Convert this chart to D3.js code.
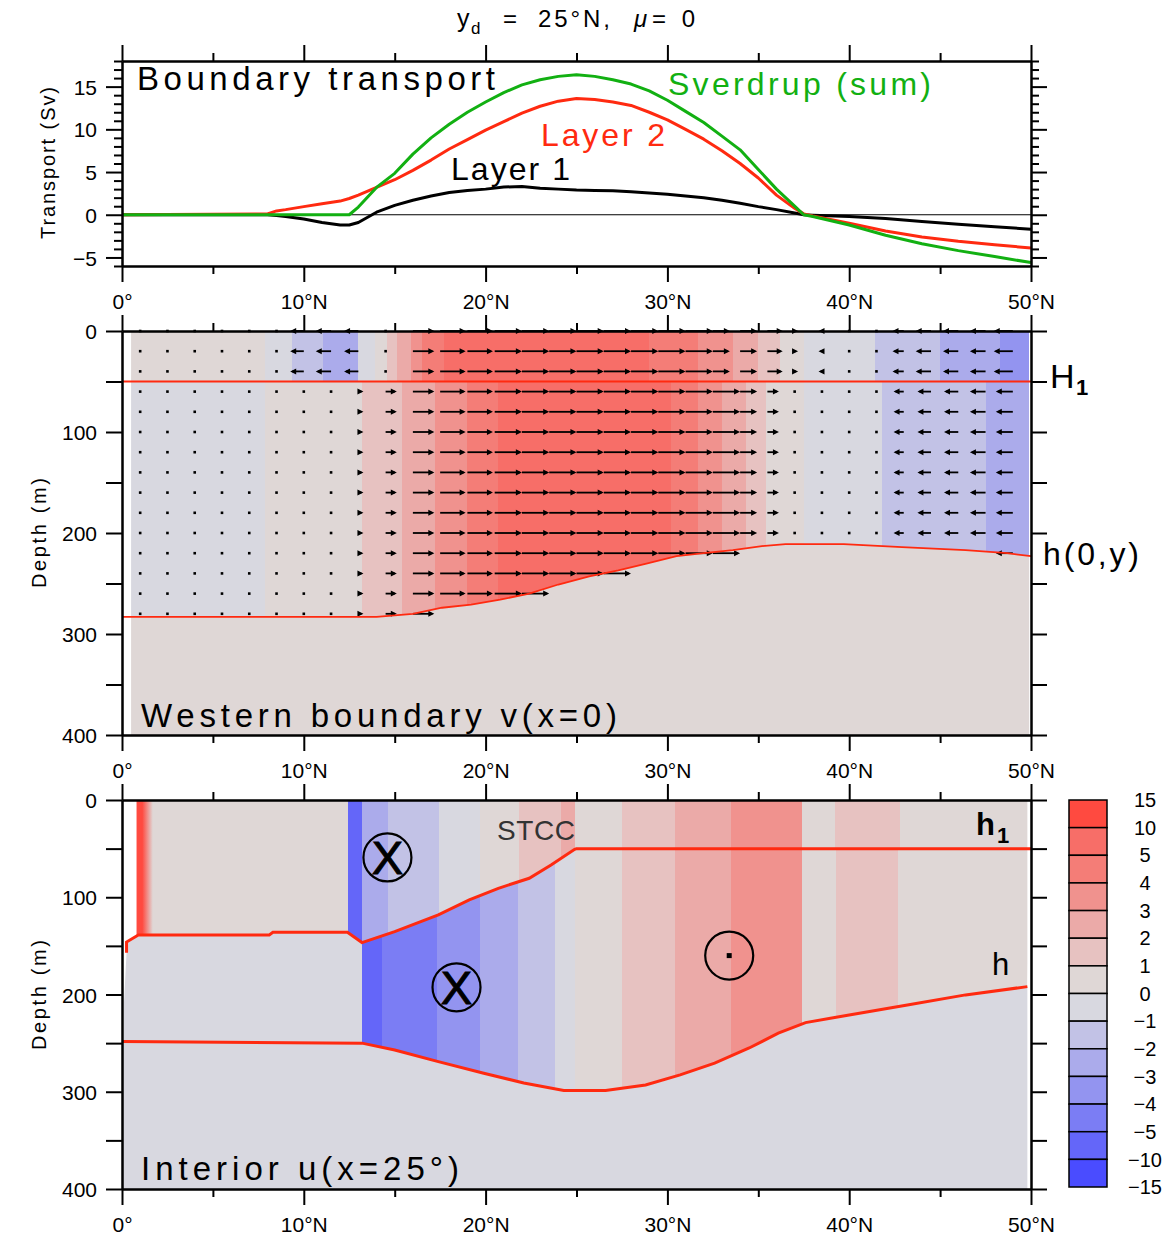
<!DOCTYPE html>
<html><head><meta charset="utf-8">
<script src="https://cdn.jsdelivr.net/npm/d3@7/dist/d3.min.js"></script>
<style>
html,body{margin:0;padding:0;background:#fff;}
svg{display:block;}
</style></head>
<body>
<svg id="chart" width="1176" height="1237"></svg>
<script>
// ---------- Top panel: boundary transport (Sv) ----------
const transLat = [0, 8, 8.5, 9, 10, 11, 12, 12.5, 13, 14, 15, 16, 17, 18, 19, 20, 21, 22, 23, 24, 25, 26, 27, 28, 29, 30, 31, 32, 33, 34, 35, 36, 37, 37.5, 38, 40, 42, 44, 46, 48, 50];
const layer1 = [0, 0, -0.1, -0.2, -0.5, -0.9, -1.2, -1.2, -0.9, 0.3, 1.1, 1.7, 2.2, 2.6, 2.85, 3.0, 3.25, 3.3, 3.1, 3.0, 2.9, 2.85, 2.8, 2.7, 2.55, 2.4, 2.2, 2.0, 1.7, 1.35, 0.95, 0.6, 0.2, 0, -0.05, -0.2, -0.45, -0.8, -1.1, -1.4, -1.7];
const layer2 = [0, 0.1, 0.45, 0.6, 0.95, 1.3, 1.6, 1.9, 2.3, 3.2, 4.1, 5.2, 6.4, 7.7, 8.8, 9.9, 10.9, 11.9, 12.7, 13.3, 13.6, 13.5, 13.2, 12.8, 12.0, 11.1, 10.0, 8.85, 7.5, 6.0, 4.3, 2.3, 0.75, 0.1, -0.15, -1.0, -1.9, -2.6, -3.1, -3.5, -3.9];
const sverdrup = [0, 0, 0, 0, 0, 0, 0, 0, 0.9, 3.2, 4.85, 7.1, 9.0, 10.6, 12.0, 13.2, 14.3, 15.2, 15.8, 16.2, 16.4, 16.2, 15.8, 15.3, 14.5, 13.4, 12.1, 10.8, 9.2, 7.6, 5.3, 3.0, 1.0, 0, -0.2, -1.2, -2.4, -3.4, -4.2, -4.9, -5.6];

// ---------- Colour classes ----------
const classBreaks = [-10, -5, -4, -3, -2, -1, 0, 1, 2, 3, 4, 5, 10];
const classColors = ["#4A4CFF", "#6466F9", "#7B7DF4", "#9394F0", "#ABABEB", "#C2C2E6", "#D8D8E0", "#DFD7D6", "#E7C2C1", "#EBAAA8", "#F0928E", "#F47D77", "#F76E68", "#FF4A40"];
const colorbarLabels = ["15", "10", "5", "4", "3", "2", "1", "0", "−1", "−2", "−3", "−4", "−5", "−10", "−15"];
const colorbarValues = [12.5, 7.5, 4.5, 3.5, 2.5, 1.5, 0.5, -0.5, -1.5, -2.5, -3.5, -4.5, -7.5, -12.5];

// ---------- Middle panel: western boundary v(x=0) ----------
const H1 = 50;
const midHLat = [0, 14, 16, 17.6, 19.2, 20.8, 22.4, 24, 25.7, 27.3, 28.9, 30.5, 32, 33.6, 35.2, 36.5, 39.7, 42.9, 46.4, 48.7, 50];
const midHDepth = [283, 283, 280, 274, 271, 266, 260, 251, 243, 237, 230, 223, 220, 217, 213, 211, 211, 214, 217, 220, 223];
const midUpEdges = [0.5, 7.85, 9.35, 11.05, 12.98, 13.9, 14.6, 15.1, 15.9, 16.5, 17.7, 29.0, 31.7, 33.6, 35.0, 36.2, 37.5, 41.4, 45.0, 48.3, 49.9];
const midUpVals = [0.5, -0.5, -1.5, -2.5, -0.5, 0.5, 1.5, 2.5, 3.5, 4.5, 7, 4.5, 3.5, 2.5, 1.5, 0.5, -0.5, -1.5, -2.5, -3.5];
const midLowEdges = [0.5, 7.85, 13.2, 15.4, 17.2, 19.0, 20.7, 30.2, 31.7, 33.0, 34.3, 35.4, 37.5, 41.8, 47.5, 49.9];
const midLowVals = [-0.5, 0.5, 1.5, 2.5, 3.5, 4.5, 7, 4.5, 3.5, 2.5, 1.5, 0.5, -0.5, -1.5, -2.5];
const midBelowVal = 0.5;
const arrowLat = [1, 2.5, 4, 5.5, 7, 8.5, 10, 11.5, 13, 14.5, 16, 17.5, 19, 20.5, 22, 23.5, 25, 26.5, 28, 29.5, 31, 32.5, 34, 35.5, 37, 38.5, 40, 41.5, 43, 44.5, 46, 47.5, 49];
const arrowDepth = [0, 20, 40, 60, 80, 100, 120, 140, 160, 180, 200, 220, 240, 260, 280];
const arrowUpper = [0.2, 0.2, 0.2, 0.2, 0.2, -0.6, -4, -4.5, -4.2, 0.8, 6.3, 7.5, 7.5, 8, 8, 8, 8, 8, 8, 8, 8, 5, 5, 4.5, 1, -1, -0.3, -0.3, -3.3, -4.5, -4.5, -4.6, -5.6];
const arrowLower = [0.2, 0.2, 0.2, 0.2, 0.2, 0.3, 0.5, 0.8, 1.5, 3.3, 6.3, 7.5, 7.5, 8, 8, 8, 8, 8, 8, 8, 8, 8, 5, 3.4, 0.6, -0.5, -0.3, -0.4, -3, -4, -4.2, -4.6, -5];

// ---------- Bottom panel: interior u(x=25°) ----------
const botH1Lat = [0.25, 0.25, 0.9, 8.1, 8.3, 12.4, 13.2, 15.0, 17.4, 19.1, 20.7, 22.4, 23.6, 24.9, 25.0, 50];
const botH1Depth = [157, 146, 138.7, 138.7, 136, 136, 146.6, 135.3, 118.2, 102.8, 90.8, 80.5, 66.8, 50.7, 50, 50];
const botHLat = [0, 13.2, 15.0, 17.4, 19.9, 22.1, 24.3, 26.6, 28.8, 30.7, 32.6, 34.5, 36.1, 37.6, 40.0, 43.2, 46.4, 49.8];
const botHDepth = [248.4, 250, 257, 269, 281, 291, 298.7, 298.7, 293, 282.6, 270.6, 255, 239.8, 228.9, 221, 210.7, 200.4, 191.9];
const botL1Edges = [1.6, 12.45, 13.2, 14.65, 17.45, 19.7, 21.85, 24.15, 24.9, 27.5, 30.4, 33.5, 37.4, 39.2, 42.8, 49.8];
const botL1Vals = [0.5, -7, -2.5, -1.5, -0.5, 0.5, 1.5, 2.5, 0.5, 1.5, 2.5, 3.5, 0.5, 1.5, 0.5];
const botL2Edges = [0.1, 13.2, 14.3, 17.3, 19.7, 21.8, 23.8, 24.9, 27.5, 30.4, 33.5, 37.4, 39.3, 42.7, 49.8];
const botL2Vals = [-0.5, -7, -4.5, -3.5, -2.5, -1.5, -0.5, 0.5, 1.5, 2.5, 3.5, 0.5, 1.5, 0.5];
const botEdgeStripe = [0.8, 1.7];
const botEdgeVal = 12;
const botBelowVal = -0.5;
const symLat = [14.6, 18.4, 33.4];
const symDepth = [59, 192.6, 160];
const symType = ["into", "into", "out"];

// ================= drawing =================
const FONT = "'Liberation Sans', Arial, sans-serif";
const RED = "#FF2A10";
const svg = d3.select("#chart");
const defs = svg.append("defs");
const x = d3.scaleLinear([0, 50], [122, 1031]);
const yT = d3.scaleLinear([-6, 18], [266, 61]);
const yM = d3.scaleLinear([0, 400], [331, 735]);
const yB = d3.scaleLinear([0, 400], [800, 1189]);
const color = d3.scaleThreshold(classBreaks, classColors);
const zip = (a, b) => a.map((v, i) => [v, b[i]]);
const lineLD = (ys) => d3.line().x(d => x(d[0])).y(d => ys(d[1]));

function stripes(g, edges, vals, ys, d0, d1) {
  g.selectAll(null).data(vals).join("rect")
    .attr("x", (v, i) => x(edges[i]))
    .attr("width", (v, i) => x(edges[i + 1]) - x(edges[i]) + 0.3)
    .attr("y", ys(d0)).attr("height", ys(d1) - ys(d0))
    .attr("fill", v => color(v)).attr("shape-rendering", "crispEdges");
}

function addText(str, px, py, size, opts = {}) {
  const t = svg.append("text").attr("x", px).attr("y", py)
    .attr("font-family", FONT).attr("font-size", size)
    .attr("fill", opts.fill || "#000").text(str);
  if (opts.len) t.attr("textLength", opts.len).attr("lengthAdjust", "spacing");
  if (opts.anchor) t.attr("text-anchor", opts.anchor);
  if (opts.weight) t.attr("font-weight", opts.weight);
  if (opts.style) t.attr("font-style", opts.style);
  return t;
}

// ---- Top panel ----
const gT = svg.append("g");
gT.append("line").attr("x1", x(0)).attr("x2", x(50)).attr("y1", yT(0)).attr("y2", yT(0))
  .attr("stroke", "#000").attr("stroke-width", 1.2);
const lineT = d3.line().x((d, i) => x(transLat[i])).y(d => yT(d));
[[layer1, "#000"], [layer2, RED], [sverdrup, "#12B012"]].forEach(([s, c]) => {
  gT.append("path").attr("d", lineT(s)).attr("fill", "none").attr("stroke", c)
    .attr("stroke-width", 3).attr("stroke-linejoin", "round");
});

// ---- Middle panel ----
defs.append("clipPath").attr("id", "midClip").append("rect")
  .attr("x", x(0.5)).attr("y", yM(0)).attr("width", x(49.9) - x(0.5)).attr("height", yM(400) - yM(0));
const midHPts = zip(midHLat, midHDepth);
defs.append("clipPath").attr("id", "aboveH").append("path")
  .attr("d", d3.area().x(d => x(d[0])).y0(yM(0)).y1(d => yM(d[1]))(midHPts));
const gM = svg.append("g").attr("clip-path", "url(#midClip)");
stripes(gM, midUpEdges, midUpVals, yM, 0, H1);
stripes(gM.append("g").attr("clip-path", "url(#aboveH)"), midLowEdges, midLowVals, yM, H1, 400);
gM.append("path").attr("fill", color(midBelowVal))
  .attr("d", d3.area().x(d => x(d[0])).y0(d => yM(d[1])).y1(yM(400))(midHPts));
// arrows
const hMid = d3.scaleLinear(midHLat, midHDepth);
const gA = svg.append("g");
const k = 3.4;
arrowDepth.forEach(dep => arrowLat.forEach((lat, i) => {
  if (dep > hMid(lat) + 1) return;
  const v = dep < H1 ? arrowUpper[i] : arrowLower[i];
  const x0 = x(lat), y0 = yM(dep), L = v * k;
  if (Math.abs(L) < 3) {
    gA.append("rect").attr("x", x0 - 1.3).attr("y", y0 - 1.3).attr("width", 2.6).attr("height", 2.6).attr("fill", "#000");
  } else {
    const s = Math.sign(L), tip = x0 + L;
    gA.append("line").attr("x1", x0).attr("x2", tip - s * 2).attr("y1", y0).attr("y2", y0)
      .attr("stroke", "#000").attr("stroke-width", 1.8);
    gA.append("path").attr("d", `M${tip},${y0}L${tip - s * 6},${y0 - 3}L${tip - s * 6},${y0 + 3}Z`).attr("fill", "#000");
  }
}));
svg.append("line").attr("x1", x(0)).attr("x2", x(50)).attr("y1", yM(H1)).attr("y2", yM(H1))
  .attr("stroke", RED).attr("stroke-width", 1.8);
svg.append("path").attr("d", lineLD(yM)(midHPts)).attr("fill", "none").attr("stroke", RED).attr("stroke-width", 1.8);

// ---- Bottom panel ----
const h1Pts = zip(botH1Lat, botH1Depth), hPts = zip(botHLat, botHDepth);
defs.append("clipPath").attr("id", "botClip").append("rect")
  .attr("x", x(0)).attr("y", yB(0)).attr("width", x(49.8) - x(0)).attr("height", yB(400) - yB(0));
defs.append("clipPath").attr("id", "aboveH1").append("path")
  .attr("d", lineLD(yB)([[botH1Lat[0], 0], ...h1Pts, [50, 0]]) + "Z");
defs.append("clipPath").attr("id", "betweenH").append("path")
  .attr("d", lineLD(yB)([...h1Pts, ...hPts.slice().reverse()]) + "Z");
const grad = defs.append("linearGradient").attr("id", "edgeGrad").attr("x1", 0).attr("x2", 1).attr("y1", 0).attr("y2", 0);
grad.append("stop").attr("offset", "0%").attr("stop-color", color(botEdgeVal));
grad.append("stop").attr("offset", "35%").attr("stop-color", color(botEdgeVal));
grad.append("stop").attr("offset", "100%").attr("stop-color", color(0.5));
const gB = svg.append("g").attr("clip-path", "url(#botClip)");
gB.append("path").attr("fill", color(botBelowVal))
  .attr("d", d3.area().x(d => x(d[0])).y0(d => yB(d[1])).y1(yB(400))([[0, botHDepth[0]], ...hPts, [50, botHDepth[botHDepth.length - 1]]]));
stripes(gB.append("g").attr("clip-path", "url(#betweenH)"), botL2Edges, botL2Vals, yB, 0, 400);
const gL1 = gB.append("g").attr("clip-path", "url(#aboveH1)");
stripes(gL1, botL1Edges, botL1Vals, yB, 0, 400);
gL1.append("rect").attr("x", x(botEdgeStripe[0])).attr("width", x(botEdgeStripe[1]) - x(botEdgeStripe[0]))
  .attr("y", yB(0)).attr("height", yB(400) - yB(0)).attr("fill", "url(#edgeGrad)");
svg.append("path").attr("d", lineLD(yB)(h1Pts)).attr("fill", "none").attr("stroke", RED).attr("stroke-width", 3);
svg.append("path").attr("d", lineLD(yB)(hPts)).attr("fill", "none").attr("stroke", RED).attr("stroke-width", 3);
// flow symbols
symLat.forEach((lat, i) => {
  const cx = x(lat), cy = yB(symDepth[i]);
  svg.append("circle").attr("cx", cx).attr("cy", cy).attr("r", 24).attr("fill", "none").attr("stroke", "#000").attr("stroke-width", 2.2);
  if (symType[i] === "into") {
    svg.append("text").attr("x", cx).attr("y", cy + 17).attr("text-anchor", "middle")
      .attr("font-family", FONT).attr("font-size", 47).attr("stroke", "#000").attr("stroke-width", 1).text("X");
  } else {
    svg.append("rect").attr("x", cx - 2.5).attr("y", cy - 2.5).attr("width", 5).attr("height", 5).attr("fill", "#000");
  }
});

// ---- Colour bar ----
const cbY = d3.scaleLinear([0, 14], [800, 1187]);
svg.append("g").selectAll("rect").data(colorbarValues).join("rect")
  .attr("x", 1069).attr("width", 38)
  .attr("y", (d, i) => cbY(i)).attr("height", (d, i) => cbY(i + 1) - cbY(i))
  .attr("fill", d => color(d)).attr("stroke", "#000").attr("stroke-width", 1.5);
svg.append("g").selectAll("text").data(colorbarLabels).join("text")
  .attr("x", 1145).attr("y", (d, i) => cbY(i)).attr("dy", "0.36em").attr("text-anchor", "middle")
  .attr("font-family", FONT).attr("font-size", 20).text(d => d);

// ---- Axes frames ----
const latFmt = d => d === 0 ? "0°" : d + "°N";
function frame(ys, yTopPx, yBotPx, yMaj, yMin, minSize, yFmt) {
  const g = svg.append("g");
  const gb = g.append("g").attr("transform", `translate(0,${yBotPx})`);
  gb.call(d3.axisBottom(x).tickValues(d3.range(0, 51, 10)).tickSize(16).tickSizeOuter(0).tickFormat(latFmt));
  gb.append("g").call(d3.axisBottom(x).tickValues(d3.range(5, 50, 10)).tickSize(8).tickSizeOuter(0).tickFormat(""));
  gb.selectAll(".tick text").attr("y", 43).attr("dy", null);
  const gt = g.append("g").attr("transform", `translate(0,${yTopPx})`);
  gt.call(d3.axisTop(x).tickValues(d3.range(0, 51, 10)).tickSize(16).tickSizeOuter(0).tickFormat(""));
  gt.append("g").call(d3.axisTop(x).tickValues(d3.range(5, 50, 10)).tickSize(8).tickSizeOuter(0).tickFormat(""));
  const gl = g.append("g").attr("transform", `translate(${x(0)},0)`);
  gl.call(d3.axisLeft(ys).tickValues(yMaj).tickSize(16).tickSizeOuter(0).tickFormat(yFmt));
  gl.append("g").call(d3.axisLeft(ys).tickValues(yMin).tickSize(minSize).tickSizeOuter(0).tickFormat(""));
  gl.selectAll(".tick text").attr("x", -25).attr("dy", "0.36em");
  const gr = g.append("g").attr("transform", `translate(${x(50)},0)`);
  gr.call(d3.axisRight(ys).tickValues(yMaj).tickSize(16).tickSizeOuter(0).tickFormat(""));
  gr.append("g").call(d3.axisRight(ys).tickValues(yMin).tickSize(minSize).tickSizeOuter(0).tickFormat(""));
  g.selectAll("path.domain, .tick line").attr("stroke", "#000").attr("stroke-width", 2);
  g.selectAll("text").attr("font-family", FONT).attr("font-size", 21).attr("fill", "#000");
}
const numFmt = d => d < 0 ? "−" + (-d) : String(d);
frame(yT, 61, 266, [-5, 0, 5, 10, 15], d3.range(-6, 19).filter(d => d % 5 !== 0), 8, numFmt);
frame(yM, 331, 735, [0, 100, 200, 300, 400], [50, 150, 250, 350], 16, numFmt);
frame(yB, 800, 1189, [0, 100, 200, 300, 400], [50, 150, 250, 350], 16, numFmt);

// ---- Text ----
const title = svg.append("text").attr("font-family", FONT).attr("fill", "#000");
title.append("tspan").attr("x", 457).attr("y", 27).attr("font-size", 25).text("y");
title.append("tspan").attr("x", 471).attr("y", 34).attr("font-size", 17).text("d");
addText("=", 503, 27, 24);
addText("25°N,", 538, 27, 24, { len: 72 });
addText("μ", 634, 27, 24, { style: "italic" });
addText("=0", 652, 27, 24, { len: 43 });

addText("Boundary transport", 137, 90, 33, { len: 358 });
addText("Sverdrup (sum)", 668, 95, 32, { len: 263, fill: "#12B012" });
addText("Layer 2", 541, 146, 32, { len: 124, fill: RED });
addText("Layer 1", 451, 180, 32, { len: 119 });

addText("Western boundary v(x=0)", 141, 727, 33, { len: 476 });
addText("Interior u(x=25°)", 141, 1180, 33, { len: 318 });
addText("STCC", 497, 840, 28, { len: 78, fill: "#333" });

const H1t = svg.append("text").attr("font-family", FONT).attr("fill", "#000");
H1t.append("tspan").attr("x", 1050).attr("y", 388).attr("font-size", 34).text("H");
H1t.append("tspan").attr("x", 1076).attr("y", 395).attr("font-size", 22).attr("font-weight", "bold").text("1");
addText("h(0,y)", 1043, 565, 32, { len: 96 });
const h1t = svg.append("text").attr("font-family", FONT).attr("fill", "#000").attr("font-weight", "bold");
h1t.append("tspan").attr("x", 976).attr("y", 835).attr("font-size", 31).text("h");
h1t.append("tspan").attr("x", 997).attr("y", 843).attr("font-size", 22).text("1");
addText("h", 992, 975, 31);

// axis titles
[["Transport (Sv)", 55, 163, 152], ["Depth (m)", 46, 533, 110], ["Depth (m)", 46, 995, 110]].forEach(([s, px, py, len]) => {
  svg.append("text").attr("transform", `translate(${px},${py}) rotate(-90)`)
    .attr("text-anchor", "middle").attr("font-family", FONT).attr("font-size", 20)
    .attr("textLength", len).attr("lengthAdjust", "spacing").text(s);
});
</script>
</body></html>
